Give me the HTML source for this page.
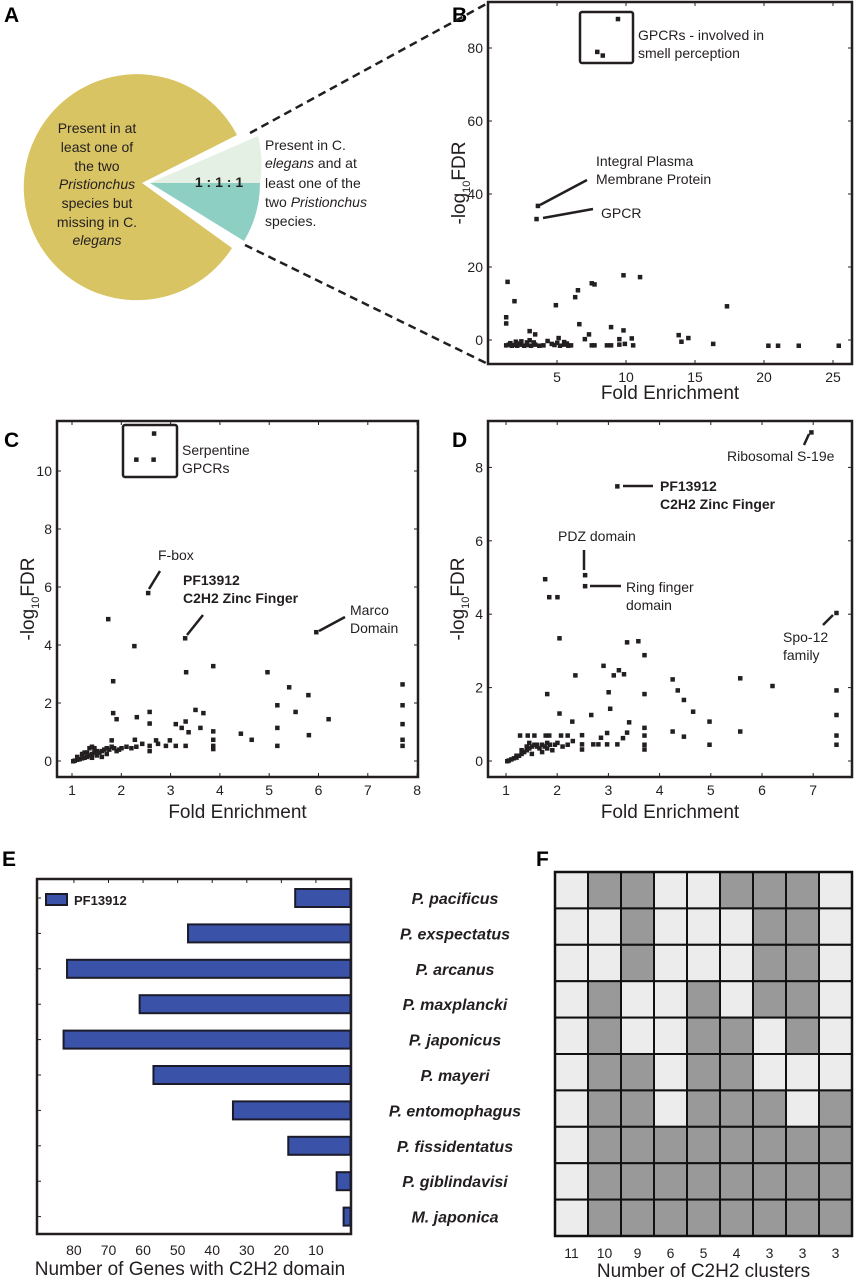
<!DOCTYPE html>
<html><head><meta charset="utf-8"><style>
html,body{margin:0;padding:0;background:#fff}
svg{display:block;font-family:"Liberation Sans",sans-serif}
.t{font-size:14px;fill:#231f20}
.lbl{font-size:19px;fill:#231f20}
.pl{font-size:21px;font-weight:bold;fill:#000}
</style></head><body>
<svg id="fig" width="854" height="1280" viewBox="0 0 854 1280" xmlns="http://www.w3.org/2000/svg">
<text class="pl" x="4" y="22">A</text>
<text class="pl" x="452" y="22">B</text>
<text class="pl" x="4" y="447">C</text>
<text class="pl" x="452" y="447">D</text>
<text class="pl" x="2" y="866">E</text>
<text class="pl" x="536" y="866">F</text>

<g>
<path d="M142,183 L237,135 A113,113 0 1 0 232,248 Z" fill="#d9c464"/>
<path d="M150,183 L258,136 A118,118 0 0 1 260,183 Z" fill="#e3f0e3"/>
<path d="M150,183 L260,183 A113,113 0 0 1 244,241 Z" fill="#8dcfc3"/>
<text x="219" y="187" text-anchor="middle" font-size="14" font-weight="bold" fill="#231f20">1 : 1 : 1</text>
<g class="t" text-anchor="middle" font-size="14.5">
<text x="97" y="133">Present in at</text>
<text x="97" y="152">least one of</text>
<text x="97" y="171">the two</text>
<text x="97" y="189" font-style="italic">Pristionchus</text>
<text x="97" y="208">species but</text>
<text x="97" y="227">missing in <tspan>C.</tspan></text>
<text x="97" y="245" font-style="italic">elegans</text>
</g>
<g class="t" font-size="14.5">
<text x="265" y="150">Present in C.</text>
<text x="265" y="168"><tspan font-style="italic">elegans</tspan> and at</text>
<text x="265" y="188">least one of the</text>
<text x="265" y="207">two <tspan font-style="italic">Pristionchus</tspan></text>
<text x="265" y="226">species.</text>
</g>
<line x1="250" y1="133" x2="488" y2="3" stroke="#231f20" stroke-width="2.5" stroke-dasharray="8,5"/>
<line x1="245" y1="245" x2="488" y2="364" stroke="#231f20" stroke-width="2.5" stroke-dasharray="8,5"/>
</g>

<g id="pB"></g>
<g id="pC"></g>
<g id="pD"></g>
<g id="pE"></g>
<g id="pF"></g>
</svg>
<script>
const NS="http://www.w3.org/2000/svg";
// ---- Panel B data ----
const bX=[1.4,1.9,1.3,1.3,3.0,3.4,4.3,4.9,5.1,6.3,6.5,6.6,7.0,7.3,7.5,7.7,7.5,7.7,8.9,9.8,9.8,9.5,9.9,10.4,10.5,11.0,13.8,14.0,14.5,16.3,17.3,20.3,21.0,22.5,25.4,
 1.3,1.5,1.7,1.9,2.1,2.3,2.6,2.8,3.1,3.4,3.7,4.0,4.8,5.2,5.5,5.8,6.0,8.6,8.9,9.5,2.0,2.4,3.0,2.8,5.0,5.5,1.6,2.2,3.3,4.6,5.7,
 9.4,7.9,8.3,3.6,3.5];
const bY=[16,10.7,6.3,4.6,2.5,1.6,-0.2,9.6,0.6,11.8,13.7,4.4,0.3,1.6,15.6,15.3,-1.4,-1.4,3.6,17.8,2.7,0.3,-1,0.5,-1.4,17.3,1.4,-0.4,0.6,-1,9.3,-1.5,-1.5,-1.5,-1.5,
 -1.4,-1.2,-1.5,-1.3,-1.5,-1.2,-1.5,-1.3,-1.5,-1.2,-1.5,-1.4,-1.3,-1.5,-1.2,-1.5,-1.4,-1.4,-1.4,-1.2,-0.4,-0.3,0,-0.6,-0.7,-0.5,-0.8,-0.9,-0.6,-1.0,-0.9,
 88,79,78,36.8,33.2];
const bXTicks=[5,10,15,20,25];
const bYTicks=[0,20,40,60,80];
// ---- Panel C data ----
const cX=[2.54,1.73,2.26,3.29,5.95,1.83,3.31,3.86,4.96,5.4,5.79,7.7,5.16,7.7,1.83,1.9,2.31,2.57,2.57,3.1,3.3,3.22,3.36,3.5,3.66,3.6,3.86,3.86,3.86,3.86,4.42,4.64,5.16,5.16,5.53,5.8,6.2,7.7,7.7,7.7,2.57,2.57,2.7,2.74,2.9,2.98,3.1,3.3,2.42,2.27,
 1.02,1.05,1.1,1.15,1.2,1.25,1.3,1.35,1.4,1.45,1.5,1.55,1.6,1.65,1.7,1.75,1.8,1.85,1.9,1.95,2.0,2.1,2.2,2.3,1.3,1.35,1.4,1.45,1.5,1.2,1.6,1.7,1.8,1.1,1.25,1.4,
 2.66,2.3,2.65];
const cY=[5.8,4.9,3.97,4.24,4.45,2.76,3.07,3.28,3.07,2.55,2.28,2.65,1.93,1.93,1.66,1.45,1.52,1.7,1.3,1.28,1.37,1.15,1.0,1.77,1.66,1.15,1.03,0.74,0.53,0.42,0.95,0.74,1.15,0.53,1.7,0.9,1.45,1.28,0.74,0.53,0.53,0.35,0.72,0.6,0.53,0.72,0.53,0.53,0.6,0.74,
 0,0.02,0.05,0.07,0.1,0.12,0.15,0.2,0.25,0.3,0.35,0.3,0.35,0.4,0.45,0.4,0.5,0.45,0.35,0.4,0.45,0.5,0.45,0.5,0.3,0.45,0.5,0.45,0.2,0.25,0.15,0.25,0.72,0.15,0.3,0.12,
 11.3,10.4,10.4];
const cXTicks=[1,2,3,4,5,6,7,8];
const cYTicks=[0,2,4,6,8,10];
// ---- Panel D data ----
const dX=[1.76,1.84,2.0,2.04,2.54,2.54,3.36,3.58,3.7,2.9,2.35,3.1,3.2,3.3,1.8,3.0,3.7,4.25,4.35,4.47,4.65,4.97,5.57,6.2,7.45,7.45,7.45,7.45,7.45,2.04,2.29,2.66,3.03,2.97,2.97,3.17,2.85,3.28,3.36,3.4,3.7,3.7,3.7,3.7,4.25,4.47,4.97,5.57,2.7,2.8,2.48,2.48,2.48,
 1.27,1.42,1.55,1.77,1.84,2.07,2.2,
 1.02,1.05,1.1,1.15,1.2,1.25,1.3,1.35,1.4,1.45,1.5,1.55,1.6,1.65,1.7,1.75,1.8,1.85,1.9,1.95,2.0,2.1,2.2,2.3,1.3,1.4,1.5,1.6,1.7,1.8,1.2,1.45,
 6.96,3.17];
const dY=[4.96,4.47,4.47,3.35,5.07,4.77,3.24,3.27,2.89,2.6,2.34,2.34,2.48,2.37,1.83,1.88,1.83,2.23,1.93,1.67,1.35,1.08,2.26,2.05,1.93,1.26,0.7,0.45,4.04,1.3,1.08,1.26,1.43,0.77,0.46,0.46,0.64,0.63,0.78,1.06,0.91,0.7,0.45,0.32,0.81,0.67,0.45,0.81,0.46,0.46,0.71,0.46,0.32,
 0.7,0.7,0.7,0.7,0.7,0.7,0.7,
 0,0.02,0.05,0.08,0.1,0.15,0.2,0.25,0.3,0.35,0.4,0.45,0.4,0.35,0.45,0.4,0.5,0.45,0.3,0.45,0.5,0.4,0.45,0.55,0.3,0.4,0.2,0.45,0.25,0.35,0.15,0.5,
 8.96,7.49];
const dXTicks=[1,2,3,4,5,6,7];
const dYTicks=[0,2,4,6,8];
// ---- Panel E data ----
const species=["P. pacificus","P. exspectatus","P. arcanus","P. maxplancki","P.  japonicus","P. mayeri","P. entomophagus","P. fissidentatus","P. giblindavisi","M.  japonica"];
const geneCounts=[16,47,82,61,83,57,34,18,4,2];
const eTicks=[80,70,60,50,40,30,20,10];
// ---- Panel F data ----
const clusterCounts=[11,10,9,6,5,4,3,3,3];
const presence=[
[0,1,1,0,0,1,1,1,0],
[0,0,1,0,0,0,1,1,0],
[0,0,1,0,0,0,1,1,0],
[0,1,0,0,1,0,1,1,0],
[0,1,0,0,1,1,0,1,0],
[0,1,1,0,1,1,0,0,0],
[0,1,1,0,1,1,1,0,1],
[0,1,1,1,1,1,1,1,1],
[0,1,1,1,1,1,1,1,1],
[0,1,1,1,1,1,1,1,1]];

function el(tag,attrs,parent,text){const e=document.createElementNS(NS,tag);for(const k in attrs)e.setAttribute(k,attrs[k]);if(text!==undefined)e.textContent=text;parent.appendChild(e);return e;}

function scatter(gid,box,xs,ys,xT,yT,fx,fy,xl,xlY,ylX){
  const g=document.getElementById(gid);
  const r=el('rect',{x:box[0],y:box[1],width:box[2]-box[0],height:box[3]-box[1],fill:'none',stroke:'#231f20','stroke-width':2.5},g);
  
  
  xT.forEach(v=>{const x=fx(v);
    el('line',{x1:x,y1:box[3],x2:x,y2:box[3]-4,stroke:'#231f20','stroke-width':1},g);
    el('line',{x1:x,y1:box[1],x2:x,y2:box[1]+4,stroke:'#231f20','stroke-width':1},g);
    const t=el('text',{x:x,y:box[3]+18,'text-anchor':'middle','class':'t','font-size':15},g,String(v));
    
    });
  yT.forEach(v=>{const y=fy(v);
    el('line',{x1:box[0],y1:y,x2:box[0]+4,y2:y,stroke:'#231f20','stroke-width':1},g);
    el('line',{x1:box[2],y1:y,x2:box[2]-4,y2:y,stroke:'#231f20','stroke-width':1},g);
    const t=el('text',{x:box[0]-5,y:y+5,'text-anchor':'end','class':'t','font-size':15},g,String(v));
    
    });
  xs.forEach((v,i)=>{const p=el('rect',{x:fx(v)-2,y:fy(ys[i])-2,width:4.5,height:4.5,fill:'#231f20'},g);
    
    });
  const xt=el('text',{x:(box[0]+box[2])/2,y:xlY,'text-anchor':'middle','class':'lbl'},g,xl);
  
  
  const cy=(box[1]+box[3])/2;
  const yt=el('text',{x:ylX,y:cy,'text-anchor':'middle','class':'lbl',transform:'rotate(-90 '+ylX+' '+cy+')'},g);
  yt.innerHTML='-log<tspan font-size="11" dy="5">10</tspan><tspan dy="-5">FDR</tspan>';
  
  
  return g;
}
function ann(g,name,x1,y1,x2,y2){const l=el('line',{x1:x1,y1:y1,x2:x2,y2:y2,stroke:'#231f20','stroke-width':2.5},g);
  
  }
function txt(g,name,x,y,lines,bold){const t=el('text',{x:x,y:y,'class':'t','font-size':14.5,'font-weight':bold?'bold':'normal'},g);
  lines.forEach((s,i)=>{el('tspan',{x:x,dy:i?18:0},t,s);});
  
  }

// B
const fxB=v=>488+13.8*v, fyB=v=>340-3.65*v;
const gB=scatter('pB',[488,2,852,364],bX,bY,bXTicks,bYTicks,fxB,fyB,'Fold Enrichment',399,465);
const bb=el('rect',{x:580,y:12,width:53,height:51,fill:'none',stroke:'#231f20','stroke-width':2.5,rx:2},gB);


txt(gB,'gpcr-smell-label',638,40,['GPCRs - involved in','smell perception']);
ann(gB,'integral-membrane-leader',540,205,587,180);
txt(gB,'integral-membrane-label',596,166,['Integral Plasma','Membrane Protein']);
ann(gB,'gpcr-leader',543,218,593,209);
txt(gB,'gpcr-label',601,218,['GPCR']);

// C
const fxC=v=>72+49.3*(v-1), fyC=v=>761-29*v;
const gC=scatter('pC',[57,421,418,777],cX,cY,cXTicks,cYTicks,fxC,fyC,'Fold Enrichment',818,34);
const cb=el('rect',{x:123,y:425,width:54,height:52,fill:'none',stroke:'#231f20','stroke-width':2.5,rx:2},gC);


txt(gC,'serpentine-label',182,455,['Serpentine','GPCRs']);
ann(gC,'fbox-leader',149,589,160,571);
txt(gC,'fbox-label',158,560,['F-box']);
ann(gC,'pf13912-leader-c',187,635,203,615);
txt(gC,'pf13912-label-c',183,585,['PF13912','C2H2 Zinc Finger'],true);
ann(gC,'marco-leader',319,631,345,617);
txt(gC,'marco-label',350,615,['Marco','Domain']);

// D
const fxD=v=>506+51.2*(v-1), fyD=v=>761-36.7*v;
const gD=scatter('pD',[488,421,852,777],dX,dY,dXTicks,dYTicks,fxD,fyD,'Fold Enrichment',818,464);
ann(gD,'ribosomal-leader',809,434,804,445);
txt(gD,'ribosomal-label',727,461,['Ribosomal S-19e']);
ann(gD,'pf13912-leader-d',623,486,653,486);
txt(gD,'pf13912-label-d',660,491,['PF13912','C2H2 Zinc Finger'],true);
ann(gD,'pdz-leader',584,550,584,570);
txt(gD,'pdz-label',558,541,['PDZ domain']);
ann(gD,'ring-leader',590,586,621,586);
txt(gD,'ring-label',626,592,['Ring finger','domain']);
ann(gD,'spo12-leader',823,625,833,615);
txt(gD,'spo12-label',783,642,['Spo-12','family']);

// E
(function(){
  const g=document.getElementById('pE');
  const L=37,R=351,T=879,B=1234;
  const fx=v=>350.5-3.457*v;
  const rowY=i=>898+i*35.4;
  const fr=el('rect',{x:L,y:T,width:R-L,height:B-T,fill:'none',stroke:'#231f20','stroke-width':2.5},g);
  
  
  eTicks.forEach(v=>{const x=fx(v);
    el('line',{x1:x,y1:T,x2:x,y2:T+4,stroke:'#231f20','stroke-width':1},g);
    const t=el('text',{x:x,y:B+21,'text-anchor':'middle','class':'t','font-size':15},g,String(v));
    
    });
  geneCounts.forEach((v,i)=>{const y=rowY(i);
    el('line',{x1:L,y1:y,x2:L+4,y2:y,stroke:'#231f20','stroke-width':1},g);
    const b=el('rect',{x:fx(v),y:y-9,width:fx(0)-fx(v),height:18,fill:'#3a52a8',stroke:'#1b1b2a','stroke-width':2},g);
    
    
    const t=el('text',{x:455,y:y+6,'text-anchor':'middle','font-size':16,'font-weight':'bold','font-style':'italic',fill:'#231f20'},g,species[i]);
    
    });
  const lg=el('rect',{x:46,y:894,width:21,height:11,fill:'#3a52a8',stroke:'#1b1b2a','stroke-width':2},g);
  
  
  const lt=el('text',{x:74,y:905,'font-size':13,'font-weight':'bold',fill:'#231f20'},g,'PF13912');
  
  
  const xt=el('text',{x:190,y:1275,'text-anchor':'middle','class':'lbl','font-size':18},g,'Number of Genes with C2H2 domain');
  
  
})();

// F
(function(){
  const g=document.getElementById('pF');
  const L=555,T=872,cw=33,rh=36.4;
  presence.forEach((row,r)=>row.forEach((v,c)=>{
    const cell=el('rect',{x:L+c*cw,y:T+r*rh,width:cw,height:rh,fill:v?'#999999':'#ececec',stroke:'#111','stroke-width':2},g);
    
    }));
  const fr=el('rect',{x:L,y:T,width:cw*9,height:rh*10,fill:'none',stroke:'#111','stroke-width':2.5},g);
  
  
  clusterCounts.forEach((v,c)=>{
    const t=el('text',{x:L+c*cw+cw/2,y:1258,'text-anchor':'middle','class':'t','font-size':15},g,String(v));
    
    });
  const xt=el('text',{x:L+cw*4.5,y:1277,'text-anchor':'middle','class':'lbl','font-size':18},g,'Number of C2H2 clusters');
  
  
})();
</script>
</body></html>
